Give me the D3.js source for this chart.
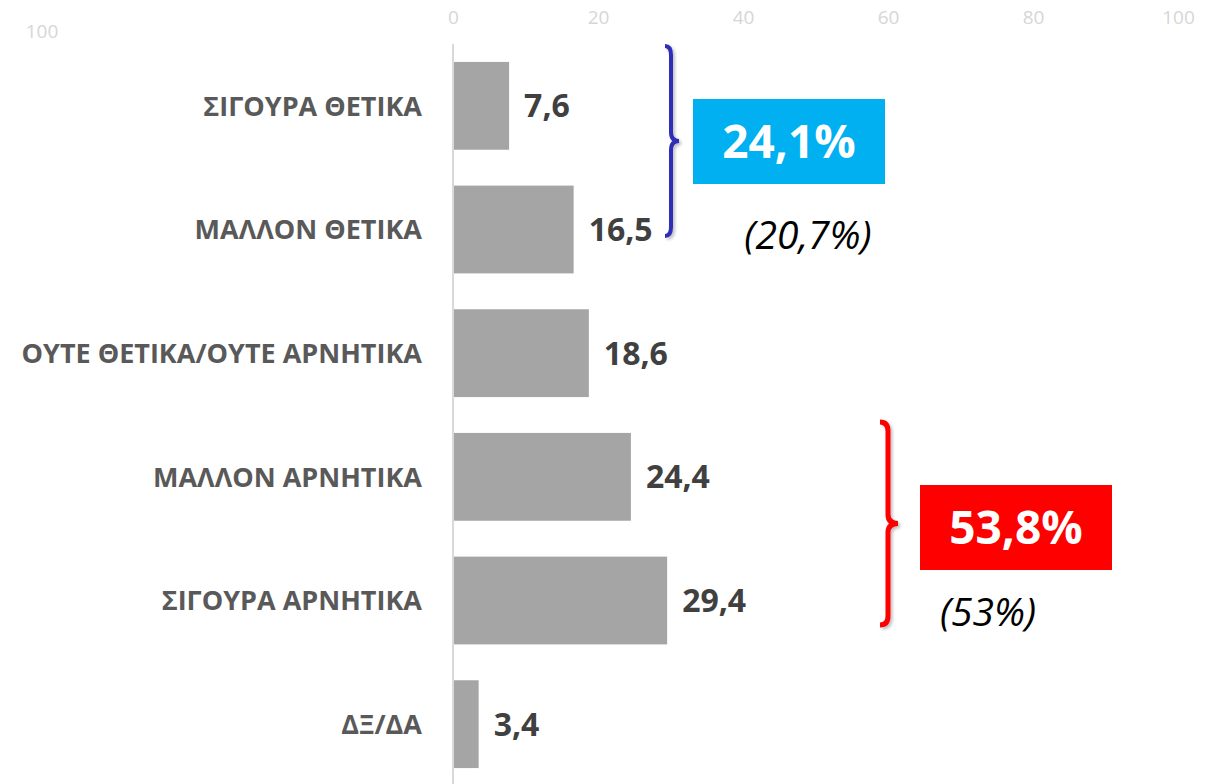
<!DOCTYPE html>
<html>
<head>
<meta charset="utf-8">
<script src="https://cdn.jsdelivr.net/npm/d3@7"></script>
<style>
  html, body { margin: 0; padding: 0; background: #fff; }
  svg { display: block; }
</style>
</head>
<body>
<svg id="chart" width="1212" height="784"></svg>
<script>
// ---- data ----
const categories = ["ΣΙΓΟΥΡΑ ΘΕΤΙΚΑ", "ΜΑΛΛΟΝ ΘΕΤΙΚΑ", "ΟΥΤΕ ΘΕΤΙΚΑ/ΟΥΤΕ ΑΡΝΗΤΙΚΑ", "ΜΑΛΛΟΝ ΑΡΝΗΤΙΚΑ", "ΣΙΓΟΥΡΑ ΑΡΝΗΤΙΚΑ", "ΔΞ/ΔΑ"];
const values = [7.6, 16.5, 18.6, 24.4, 29.4, 3.4];
const valueLabels = ["7,6", "16,5", "18,6", "24,4", "29,4", "3,4"];
const xTicks = [0, 20, 40, 60, 80, 100];
const positiveTotal = "24,1%";
const positivePrev = "(20,7%)";
const negativeTotal = "53,8%";
const negativePrev = "(53%)";
const strayLabel = "100";

// ---- chart ----
const svg = d3.select("#chart");
const FONT = "'Open Sans', 'Noto Sans', sans-serif";

const x = d3.scaleLinear().domain([0, 100]).range([453, 1178]);
const y = d3.scaleBand().domain(categories).range([44, 786]).paddingInner(0.29).paddingOuter(0.145);

const defs = svg.append("defs");
const f = defs.append("filter").attr("id", "shadow").attr("x", "-50%").attr("y", "-10%").attr("width", "200%").attr("height", "120%");
f.append("feDropShadow").attr("dx", 2).attr("dy", 2).attr("stdDeviation", 1.5).attr("flood-color", "#000").attr("flood-opacity", 0.25);

// stray top-left tick label
svg.append("text").attr("x", 42).attr("y", 38).attr("text-anchor", "middle")
  .attr("font-family", FONT).attr("font-size", 19).attr("fill", "#d6d6d6").text(strayLabel);

// top axis
const xAxis = d3.axisTop(x).tickValues(xTicks).tickSize(0).tickPadding(0);
const gx = svg.append("g").attr("transform", "translate(0,24)").call(xAxis);
gx.select(".domain").remove();
gx.selectAll("text").attr("font-family", FONT).attr("font-size", 19).attr("fill", "#d6d6d6").attr("dy", 0);

// vertical axis line
svg.append("line").attr("x1", x(0)).attr("x2", x(0)).attr("y1", 44).attr("y2", 784)
  .attr("stroke", "#d9d9d9").attr("stroke-width", 2);

// bars
svg.selectAll("rect.bar").data(values).join("rect").attr("class", "bar")
  .attr("x", x(0) + 1).attr("y", (d, i) => y(categories[i]))
  .attr("width", d => x(d) - x(0)).attr("height", y.bandwidth())
  .attr("fill", "#a5a5a5");

// value labels
svg.selectAll("text.val").data(values).join("text").attr("class", "val")
  .attr("x", d => x(d) + 16).attr("y", (d, i) => y(categories[i]) + y.bandwidth() / 2)
  .attr("dy", "0.36em")
  .attr("font-family", FONT).attr("font-weight", 700).attr("font-size", 32).attr("fill", "#404040")
  .text((d, i) => valueLabels[i]);

// category labels
svg.selectAll("text.cat").data(categories).join("text").attr("class", "cat")
  .attr("x", 422).attr("y", d => y(d) + y.bandwidth() / 2)
  .attr("dy", "0.36em").attr("text-anchor", "end")
  .attr("font-family", FONT).attr("font-weight", 700).attr("font-size", 27).attr("fill", "#595959")
  .text(d => d);

// brackets
function bracket(xl, top, bottom, depth, tip) {
  const mid = (top + bottom) / 2;
  const xv = xl + depth;
  const r = 9;
  return `M${xl},${top} Q${xv},${top} ${xv},${top + r} L${xv},${mid - r} Q${xv},${mid} ${xv + tip},${mid} ` +
         `Q${xv},${mid} ${xv},${mid + r} L${xv},${bottom - r} Q${xv},${bottom} ${xl},${bottom}`;
}
svg.append("path").attr("d", bracket(665, 46, 236, 6, 8))
  .attr("fill", "none").attr("stroke", "#2e2eb8").attr("stroke-width", 4).attr("filter", "url(#shadow)");
svg.append("path").attr("d", bracket(880, 422, 625, 8, 10))
  .attr("fill", "none").attr("stroke", "#ff0000").attr("stroke-width", 5).attr("filter", "url(#shadow)");

// summary boxes
function box(x0, y0, w, h, fill, label) {
  svg.append("rect").attr("x", x0).attr("y", y0).attr("width", w).attr("height", h).attr("fill", fill);
  svg.append("text").attr("x", x0 + w / 2).attr("y", y0 + h / 2).attr("dy", "0.36em")
    .attr("text-anchor", "middle").attr("font-family", FONT).attr("font-weight", 700)
    .attr("font-size", 46).attr("fill", "#fff").text(label);
}
box(693, 99, 192, 85, "#00b0f0", positiveTotal);
box(920, 485, 192, 85, "#ff0000", negativeTotal);

function note(cx, cy, label) {
  svg.append("text").attr("x", cx).attr("y", cy).attr("dy", "0.36em").attr("text-anchor", "middle")
    .attr("font-family", FONT).attr("font-style", "italic").attr("font-size", 39).attr("fill", "#000")
    .text(label);
}
note(808, 235, positivePrev);
note(988, 612, negativePrev);
</script>
</body>
</html>
